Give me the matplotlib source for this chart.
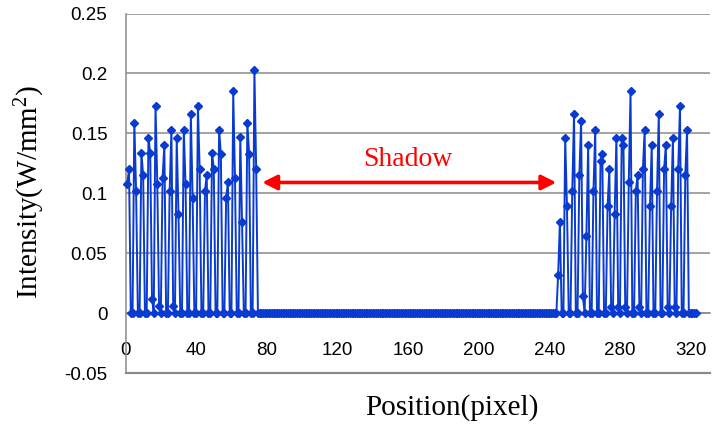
import numpy as np
import matplotlib
matplotlib.use("Agg")
import matplotlib.pyplot as plt
from matplotlib.lines import Line2D

plt.rcParams["mathtext.fontset"] = "custom"
plt.rcParams["mathtext.rm"] = "Liberation Serif"
plt.rcParams["mathtext.default"] = "regular"

# ---------------- data ----------------
pixel_first, pixel_last = 1, 323

left_stripe_starts = [1, 5, 9, 13, 17, 21, 25, 29, 33, 37, 41, 45, 49, 53, 57, 61, 65, 69, 73]
left_pairs = [(0.108, 0.120), (0.159, 0.102), (0.134, 0.115), (0.146, 0.134), (0.173, 0.108),
              (0.113, 0.140), (0.102, 0.153), (0.146, 0.083), (0.153, 0.108), (0.166, 0.096),
              (0.173, 0.120), (0.102, 0.115), (0.134, 0.120), (0.153, 0.133), (0.096, 0.109),
              (0.185, 0.113), (0.147, 0.076), (0.159, 0.133), (0.203, 0.120)]

right_stripe_starts = [245, 249, 253, 257, 261, 265, 269, 273, 277, 281, 285, 289, 293, 297,
                       301, 305, 309, 313, 317]
right_pairs = [(0.032, 0.076), (0.146, 0.089), (0.102, 0.166), (0.115, 0.160), (0.064, 0.140),
               (0.102, 0.153), (0.127, 0.133), (0.089, 0.120), (0.083, 0.146), (0.146, 0.140),
               (0.109, 0.185), (0.102, 0.115), (0.120, 0.153), (0.089, 0.140), (0.102, 0.166),
               (0.120, 0.140), (0.089, 0.146), (0.120, 0.173), (0.115, 0.153)]

low_pixels = [15, 19, 27, 259, 275, 279, 283, 291, 307, 311]
low_values = [0.012, 0.006, 0.006, 0.014, 0.005, 0.005, 0.005, 0.005, 0.005, 0.005]

x_ticks = [0, 40, 80, 120, 160, 200, 240, 280, 320]
y_ticks = [-0.05, 0, 0.05, 0.1, 0.15, 0.2, 0.25]
y_tick_labels = ["-0.05", "0", "0.05", "0.1", "0.15", "0.2", "0.25"]

# ---------------- build series ----------------
position = np.arange(pixel_first, pixel_last + 1)
intensity = np.zeros(len(position))
for start, (a, b) in zip(left_stripe_starts + right_stripe_starts, left_pairs + right_pairs):
    intensity[start - pixel_first] = a
    intensity[start + 1 - pixel_first] = b
for p, v in zip(low_pixels, low_values):
    intensity[p - pixel_first] = v

# ---------------- plot ----------------
fig = plt.figure(figsize=(7.12, 4.30), dpi=100)
ax = fig.add_axes([125.5 / 712, 1 - 373 / 430, (710 - 125.5) / 712, (373 - 13.5) / 430])

grid_color = "#8a8a8a"
ax.plot(position, intensity, color="#0a3bd0", lw=1.4, marker="D", ms=4.0,
        mec="#0a3bd0", mfc="#0a3bd0", zorder=3, clip_on=False)

ax.set_xlim(0, 331)
ax.set_ylim(-0.05, 0.25)
ax.set_xticks(x_ticks)
ax.set_yticks(y_ticks)
ax.set_yticklabels(y_tick_labels)

ax.yaxis.grid(True, color=grid_color, lw=1.1)
ax.set_axisbelow(True)
for s in ["top", "right"]:
    ax.spines[s].set_visible(False)
ax.spines["left"].set_color(grid_color)
ax.spines["left"].set_linewidth(1.1)
ax.spines["bottom"].set_position(("data", 0))
ax.spines["bottom"].set_color(grid_color)
ax.spines["bottom"].set_linewidth(1.1)

# bottom border of the plot area (Excel-style frame line at the lowest y value)
pos = ax.get_position()
fig.add_artist(Line2D([pos.x0, pos.x1], [pos.y0, pos.y0], transform=fig.transFigure,
                      color=grid_color, lw=1.6, zorder=10))

tick_family = ["Liberation Sans", "DejaVu Sans"]
ax.tick_params(axis="both", length=0)
ax.tick_params(axis="x", pad=21)
ax.tick_params(axis="y", pad=13)
for lab in ax.get_xticklabels() + ax.get_yticklabels():
    lab.set_fontfamily(tick_family)
    lab.set_fontsize(13.5)

serif = ["Liberation Serif", "DejaVu Serif"]
fig.text(452 / 712, 1 - 408 / 430, "Position(pixel)", ha="center", va="center",
         family=serif, fontsize=21)
fig.text(30 / 712, 1 - 192 / 430, "Intensity(W/mm$^{2}$)", ha="center", va="center",
         rotation=90, family=serif, fontsize=21)

# Shadow annotation
ax.annotate("", xy=(77.4, 0.109), xytext=(244, 0.109),
            arrowprops=dict(arrowstyle="<|-|>", color="#ff0000", lw=2.6,
                            mutation_scale=22, shrinkA=0, shrinkB=0))
ax.text(160, 0.128, "Shadow", color="#ff0000", ha="center", va="center",
        family=serif, fontsize=20)

fig.savefig("out.png", dpi=100)
